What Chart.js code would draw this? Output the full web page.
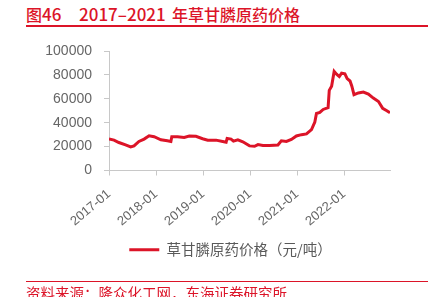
<!DOCTYPE html>
<html>
<head>
<meta charset="utf-8">
<script src="https://cdn.jsdelivr.net/npm/chart.js@4/dist/chart.umd.min.js"></script>
<style>
  body { margin: 0; width: 434px; height: 297px; overflow: hidden; background: #fff; position: relative;
         font-family: "Liberation Sans", "Noto Sans CJK SC", sans-serif; }
  .title { position: absolute; top: 4px; line-height: 20px; color: #dc1428; font-weight: 500;
           white-space: pre; font-family: "Noto Sans CJK SC", sans-serif; font-size: 16px; }
  .title .num { font-size: 17px; }
  #titleLine { position: absolute; left: 26px; top: 25px; width: 402px; height: 2px; background: #dc1428; }
  #srcLine { position: absolute; left: 26px; top: 281px; width: 402px; height: 1px; background: #dc1428; }
  #source { position: absolute; left: 26px; top: 284px; font-size: 14.5px; line-height: 18px; color: #dc1428; font-family: "Noto Sans CJK SC", sans-serif; }
  #wrap { position: absolute; left: 0; top: 0; width: 434px; height: 297px; }
</style>
</head>
<body>
<div class="title" style="left:26px">图<span class="num">46</span></div>
<div class="title" style="left:79px"><span class="num">2017–2021</span></div>
<div class="title" style="left:172px">年草甘膦原药价格</div>
<div id="titleLine"></div>
<div id="wrap"><canvas id="priceChart"></canvas></div>
<div id="srcLine"></div>
<div id="source">资料来源：隆众化工网，东海证券研究所</div>
<script>
// price of glyphosate technical, yuan per ton
const dates = [
  "2017-01-01","2017-02-09","2017-03-17","2017-05-08","2017-06-17","2017-07-13","2017-08-21","2017-09-30",
  "2017-11-08","2017-12-17","2018-02-08","2018-03-29","2018-04-25","2018-05-02","2018-06-16","2018-08-07",
  "2018-09-16","2018-11-07","2018-12-29","2019-02-07","2019-04-11","2019-06-02","2019-06-28","2019-07-06",
  "2019-08-06","2019-08-25","2019-09-28","2019-11-06","2019-12-28","2020-02-06","2020-03-02","2020-04-10",
  "2020-06-01","2020-08-05","2020-09-01","2020-10-10","2020-11-18","2020-12-27","2021-02-05","2021-03-14",
  "2021-04-22","2021-05-18","2021-05-31","2021-06-26","2021-07-22","2021-08-30","2021-09-08","2021-09-26",
  "2021-10-16","2021-11-04","2021-11-25","2021-12-13","2022-01-08","2022-01-26","2022-02-16","2022-03-01",
  "2022-03-18","2022-04-21","2022-05-30","2022-07-08","2022-08-16","2022-09-25","2022-10-28","2022-11-29",
  "2022-12-24"
];
const prices = [
  26300,25400,23400,21400,19700,20600,24300,26300,
  29100,28300,25700,24900,24300,28300,28300,27700,
  28900,28600,26600,25400,25400,24300,23700,26900,
  26300,24600,25700,24000,20600,20300,21700,20900,
  20900,21400,24900,24300,26000,28900,30000,30600,
  34300,40600,47700,48600,51100,52600,67100,70600,
  82900,80600,78600,81400,80900,76900,74900,70600,
  63400,64900,65700,64000,60600,57700,52000,50000,
  48300
];
const tickLabels = ["2017-01","2018-01","2019-01","2020-01","2021-01","2022-01"];
const yTicks = [0, 20000, 40000, 60000, 80000, 100000];
const seriesName = "草甘膦原药价格（元/吨）";

// months since 2017-01 as a decimal, so the x axis can be linear
function monthPos(s) {
  const parts = s.split("-").map(Number);
  const y = parts[0], m = parts[1], d = parts[2] || 1;
  const days = new Date(y, m, 0).getDate();
  return (y - 2017) * 12 + (m - 1) + (d - 1) / days;
}

const points = dates.map((d, i) => ({ x: monthPos(d), y: prices[i] }));
const tickPos = tickLabels.map(monthPos);

const axisColor = "#c8c8c8";
const red = "#dc1428";

new Chart(document.getElementById("priceChart"), {
  type: "line",
  data: {
    datasets: [{
      label: seriesName,
      data: points,
      borderColor: red,
      backgroundColor: red,
      borderWidth: 3,
      pointRadius: 0,
      tension: 0
    }]
  },
  options: {
    responsive: true,
    maintainAspectRatio: false,
    animation: false,
    layout: { padding: { top: 51, left: 45, right: 18, bottom: 30 } },
    plugins: {
      tooltip: { enabled: false },
      legend: {
        position: "bottom",
        labels: {
          usePointStyle: true,
          pointStyle: "line",
          pointStyleWidth: 30,
          color: "#595959",
          font: { size: 14.5, family: "'Noto Sans CJK SC', 'Liberation Sans', sans-serif" },
          padding: 10
        }
      }
    },
    scales: {
      x: {
        type: "linear",
        min: points[0].x,
        max: points[points.length - 1].x,
        afterBuildTicks: function(scale) {
          scale.ticks = tickPos.map(v => ({ value: v }));
        },
        afterFit: function(scale) { scale.height = 62; },
        border: { color: axisColor },
        grid: { drawOnChartArea: false, color: axisColor, tickLength: 5 },
        ticks: {
          autoSkip: false,
          minRotation: 40,
          maxRotation: 40,
          padding: 11,
          color: "#666",
          font: { size: 13, family: "'Liberation Sans', sans-serif" },
          callback: function(value) {
            const i = tickPos.indexOf(value);
            return i >= 0 ? tickLabels[i] : "";
          }
        }
      },
      y: {
        min: 0,
        max: 100000,
        afterBuildTicks: function(scale) {
          scale.ticks = yTicks.map(v => ({ value: v }));
        },
        afterFit: function(scale) { scale.width = 64; },
        border: { color: axisColor },
        grid: { drawOnChartArea: false, color: axisColor, tickLength: 5 },
        ticks: {
          padding: 12,
          color: "#666",
          font: { size: 14, family: "'Liberation Sans', sans-serif" },
          callback: v => String(v)
        }
      },
      // empty spacer on the right so the legend sits where the original has it
      spacer: {
        position: "right",
        grid: { display: false },
        border: { display: false },
        ticks: { display: false },
        afterFit: function(scale) { scale.width = 26; }
      }
    }
  }
});
</script>
</body>
</html>
